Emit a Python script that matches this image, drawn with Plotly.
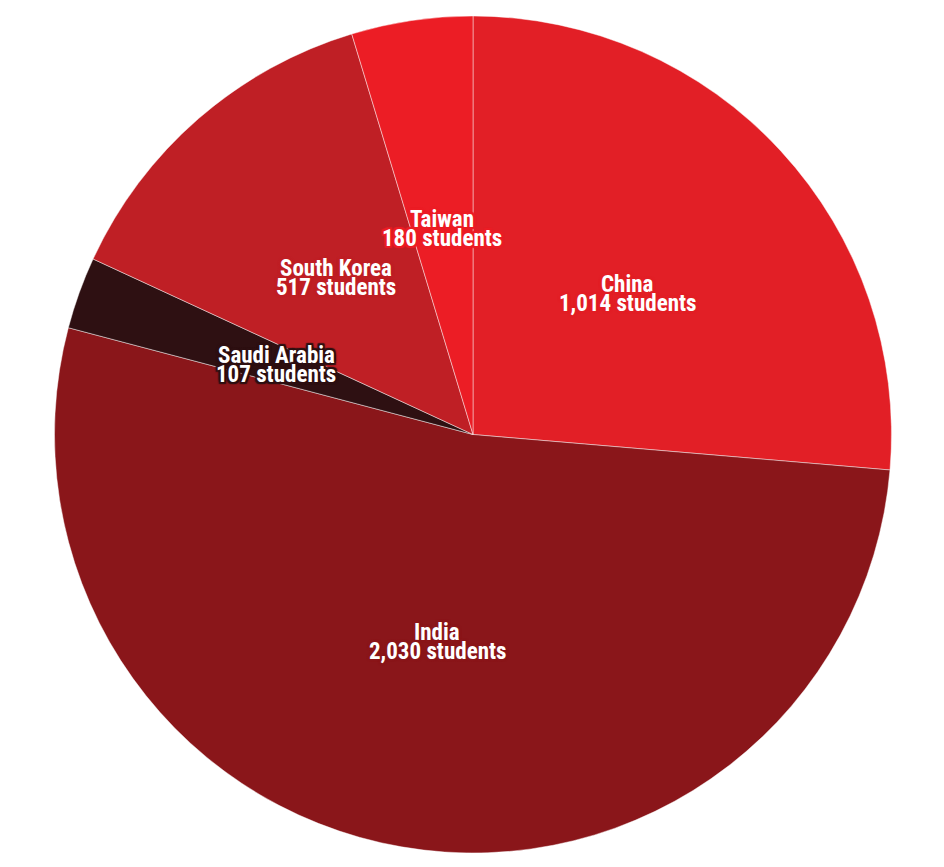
import math
import plotly.graph_objects as go

countries = ["China", "India", "Saudi Arabia", "South Korea", "Taiwan"]
students = [1014, 2030, 107, 517, 180]
colors = ["#E21F26", "#8A161A", "#2E1012", "#BF1F25", "#EC1D25"]
outline = ["#E21F26", "#8A161A", "#2E1012", "#BF1F25", "#EC1D25"]

W, H = 944, 867
# pie placement in figure pixels (page has an 8px body offset)
cx_px, top_px, bot_px = 465, 8, 845
dom_y = [1 - bot_px / H, 1 - top_px / H]
dom_x = [0, 2 * cx_px / W]

fig = go.Figure(go.Pie(
    labels=countries,
    values=students,
    sort=False,
    direction="clockwise",
    rotation=0,
    marker=dict(colors=colors, line=dict(color="rgba(255,255,255,0.45)", width=1)),
    textinfo="none",
    hoverinfo="label+value",
    domain=dict(x=dom_x, y=dom_y),
    showlegend=False,
))

total = sum(students)
r_px = (bot_px - top_px) / 2
cx = cx_px / W
cy = (dom_y[0] + dom_y[1]) / 2
cum = 0
annotations = []
for name, v, oc in zip(countries, students, outline):
    mid = (cum + v / 2) / total * 2 * math.pi
    cum += v
    dx = 0.5 * r_px * math.sin(mid) / W
    dy = 0.5 * r_px * math.cos(mid) / H
    sh = ", ".join(f"{a}px {b}px 1px {oc}" for a in (-2, 0, 2) for b in (-2, 0, 2))
    for line, ys in ((name, 8.5), (f"{v:,} students", -10.5)):
        annotations.append(dict(
            x=cx + dx, y=cy + dy, xref="paper", yref="paper",
            xanchor="center", yanchor="middle",
            yshift=ys,
            text=line,
            showarrow=False,
            font=dict(family="Roboto Condensed, Liberation Sans Narrow, Roboto, sans-serif",
                      size=23, color="white", weight="bold", shadow=sh),
            align="center",
        ))

fig.update_layout(
    width=W, height=H,
    margin=dict(l=0, r=0, t=0, b=0),
    paper_bgcolor="white",
    plot_bgcolor="white",
    annotations=annotations,
)

fig.write_html("out.html")
